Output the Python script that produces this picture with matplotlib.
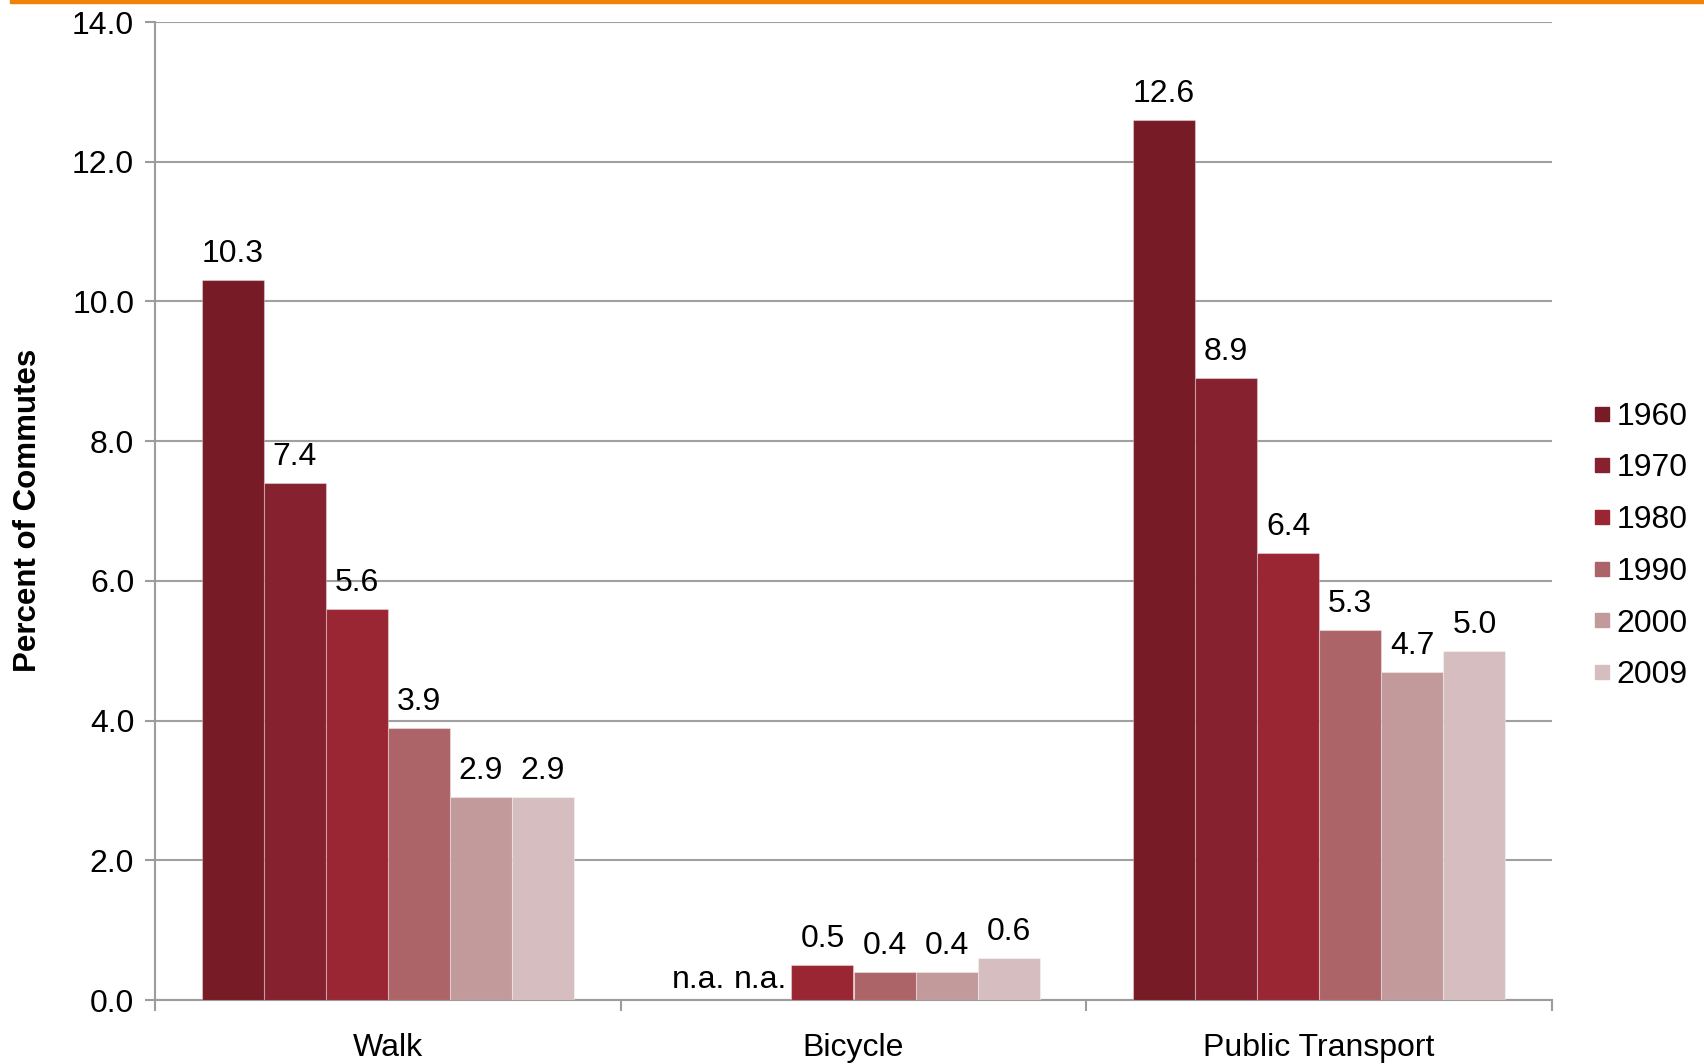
import matplotlib
matplotlib.use("Agg")
import matplotlib.pyplot as plt
from matplotlib.lines import Line2D
from matplotlib.patches import Rectangle
import numpy as np

plt.rcParams['font.family'] = ['Liberation Sans', 'DejaVu Sans']

categories = ["Walk", "Bicycle", "Public Transport"]
years = ["1960", "1970", "1980", "1990", "2000", "2009"]
values = {
    "1960": [10.3, None, 12.6],
    "1970": [7.4, None, 8.9],
    "1980": [5.6, 0.5, 6.4],
    "1990": [3.9, 0.4, 5.3],
    "2000": [2.9, 0.4, 4.7],
    "2009": [2.9, 0.6, 5.0],
}
colors = ["#771C27", "#862130", "#9A2634", "#AD6468", "#C39A9B", "#D6BEC0"]
yticks = [0, 2, 4, 6, 8, 10, 12, 14]

fig = plt.figure(figsize=(17.04, 10.64), dpi=100)
ax = fig.add_axes([155/1704, 1 - 1000/1064, (1552-155)/1704, (1000-22)/1064])

fs = 23
n = len(years)
width = 0.8 / n
x = np.arange(len(categories))
for i, (yr, col) in enumerate(zip(years, colors)):
    vals = values[yr]
    pos = x - 0.4 + width * (i + 0.5)
    h = [v if v is not None else 0 for v in vals]
    ax.bar(pos, h, width=width, color=col, edgecolor=(1, 1, 1, 0.35), linewidth=0.8, zorder=3)
    for p, v in zip(pos, vals):
        txt = "n.a." if v is None else f"{v:.1f}"
        yv = 0 if v is None else v
        off = 5 if v is None else 11
        ax.annotate(txt, (p, yv), xytext=(0, off), textcoords='offset pixels',
                    ha='center', va='bottom', fontsize=fs, color='black')

ax.set_xlim(-0.5, 2.5)
ax.set_ylim(0, 14)
ax.set_yticks(yticks)
ax.set_yticklabels([f"{t:.1f}" for t in yticks], fontsize=fs)
ax.yaxis.grid(True, color='#A0A0A0', linewidth=1.5, zorder=0)
ax.set_axisbelow(True)

ax.set_xticks([-0.5, 0.5, 1.5, 2.5])
ax.set_xticklabels([])
ax.set_xticks(x, minor=True)
ax.set_xticklabels(categories, minor=True, fontsize=fs)
ax.tick_params(axis='x', which='minor', length=0, pad=24)
ax.tick_params(axis='x', which='major', length=8, width=1.5, color='#9C9C9C', direction='out')
ax.tick_params(axis='y', length=7, width=1.5, color='#9C9C9C', pad=8)

for s in ['top', 'right']:
    ax.spines[s].set_visible(False)
for s in ['left', 'bottom']:
    ax.spines[s].set_color('#9C9C9C')
    ax.spines[s].set_linewidth(1.5)

fig.text(28/1704, 1 - 510/1064, "Percent of Commutes", rotation=90, ha='center', va='center',
         fontsize=22.5, fontweight='bold')

handles = [Line2D([], [], marker='s', linestyle='none', markersize=10.5, color=c) for c in colors]
fig.legend(handles, years, loc='center left', bbox_to_anchor=(1580/1704, 1 - 546/1064),
           frameon=False, fontsize=fs, handlelength=0.6, handletextpad=0.15, labelspacing=0.68,
           borderaxespad=0)

fig.patches.append(Rectangle((10/1704, 1 - 3/1064), 1, 3/1064, transform=fig.transFigure,
                             color='#F0820A', zorder=10))

fig.savefig("out.png", dpi=100)
